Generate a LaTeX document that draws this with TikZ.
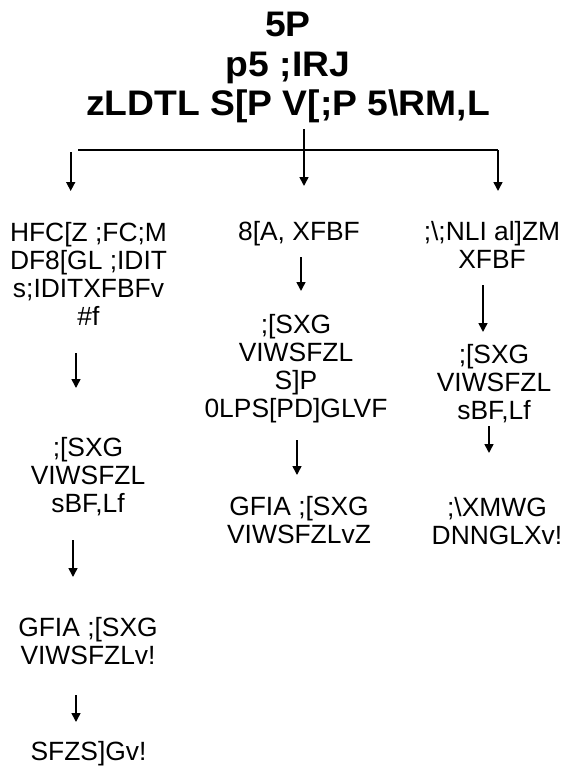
\documentclass[tikz,border=0pt]{standalone}
\usepackage{fontspec}
\setmainfont{Liberation Sans}
\newfontfamily\titlefont{Liberation Sans}[FakeStretch=1.05]
\usetikzlibrary{arrows.meta}
\begin{document}
\begin{tikzpicture}[x=1pt,y=-1pt,
  body/.style={font=\fontsize{26.4}{28}\selectfont, align=center, inner sep=0pt, anchor=north},
  ttl/.style={font=\titlefont\bfseries\fontsize{35.5}{39.5}\selectfont, align=center, inner sep=0pt, anchor=north},
  arr/.style={line width=1.6pt, -{Triangle[length=9pt,width=9pt]}},
  ln/.style={line width=1.6pt}]
\useasboundingbox (0,0) rectangle (571,768);

% title
\node[ttl] (title) at (288,12) {5P\\p5 ;IRJ\\zLDTL S[P V[;P 5\textbackslash RM,L};

% left column
\node[body] (L1) at (88.5,222) {HFC[Z ;FC;M\\DF8[GL ;IDIT\\s;IDITXFBFv\\\#f};
\node[body] (L2) at (88,437) {;[SXG\\VIWSFZL\\sBF,Lf};
\node[body] (L3) at (88,617) {GFIA ;[SXG\\VIWSFZLv!};
\node[body] (L4) at (88.5,741) {SFZS]Gv!};

% middle column
\node[body] (M1) at (299,221) {8[A, XFBF};
\node[body] (M2) at (296,314) {;[SXG\\VIWSFZL\\S]P\\0LPS[PD]GLVF};
\node[body] (M3) at (299,496) {GFIA ;[SXG\\VIWSFZLvZ};

% right column
\node[body] (R1) at (492,221) {;\textbackslash;NLI al]ZM\\XFBF};
\node[body] (R2) at (494,344) {;[SXG\\VIWSFZL\\sBF,Lf};
\node[body] (R3) at (497,497) {;\textbackslash XMWG\\DNNGLXv!};

% bracket coordinates
\coordinate (hl) at (78,150);
\coordinate (hr) at (498,150);
\coordinate (mtop) at (304,129);
\coordinate (mtip) at (304,186);
\coordinate (rtip) at (498,191);
\coordinate (ltop) at (70.7,152);
\coordinate (ltip) at (70.7,191);

\draw[ln] (hl) -- (hr);
\draw[arr] (hr) -- (rtip);
\draw[arr] (mtop) -- (mtip);
\draw[arr] (ltop) -- (ltip);

% column arrows
\coordinate (a1s) at (76,353);  \coordinate (a1e) at (76,388);
\coordinate (a2s) at (73,540);  \coordinate (a2e) at (73,577);
\coordinate (a3s) at (76,695);  \coordinate (a3e) at (76,722);
\coordinate (b1s) at (301,257); \coordinate (b1e) at (301,291);
\coordinate (b2s) at (297,440); \coordinate (b2e) at (297,475);
\coordinate (c1s) at (483,285); \coordinate (c1e) at (483,332);
\coordinate (c2s) at (489,426); \coordinate (c2e) at (489,453);

\draw[arr] (a1s) -- (a1e);
\draw[arr] (a2s) -- (a2e);
\draw[arr] (a3s) -- (a3e);
\draw[arr] (b1s) -- (b1e);
\draw[arr] (b2s) -- (b2e);
\draw[arr] (c1s) -- (c1e);
\draw[arr] (c2s) -- (c2e);
\end{tikzpicture}
\end{document}
